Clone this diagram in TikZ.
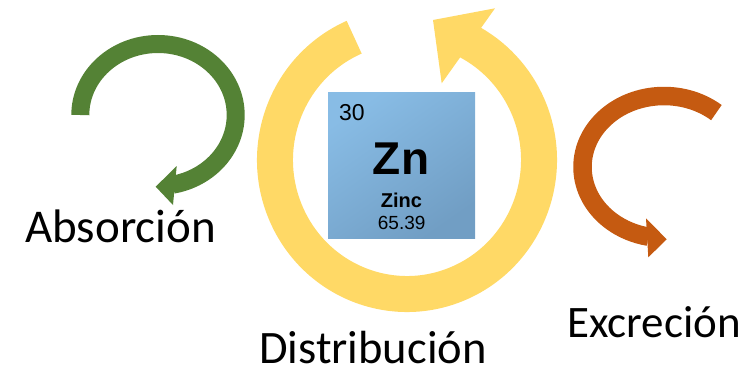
\documentclass[tikz,border=0pt]{standalone}
\usepackage{fontspec}
\setmainfont{Carlito}
\newfontfamily\tilefont{Liberation Sans}
\usetikzlibrary{calc}
\definecolor{absgreen}{RGB}{84,130,53}
\definecolor{disyellow}{RGB}{255,217,102}
\definecolor{excorange}{RGB}{197,90,17}
\definecolor{tilelight}{RGB}{136,188,229}
\definecolor{tiledark}{RGB}{113,158,196}
\tikzset{
  stage/.style={inner sep=0pt, anchor=base west, text depth=0pt},
  tile/.style={minimum width=147, minimum height=146, inner sep=0pt,
               left color=tilelight, right color=tiledark, shading angle=35},
  tiletext/.style={inner sep=0pt, anchor=base, text=black}
}

\begin{document}
\begin{tikzpicture}[x=1pt,y=1pt]
  \useasboundingbox (0,0) rectangle (756,-370);
  % centres of the cycles
  \coordinate (gc) at (158,-115);
  \coordinate (yc) at (407,-160);
  \coordinate (oc) at (664,-167);

  % absorcion
  \draw[absgreen, line width=18]
    ($(gc)+(180:77.7 and 71)$) arc[start angle=180, end angle=-79, x radius=77.7, y radius=71];
  \fill[absgreen] (155.7,-186.7) -- (176.7,-166) -- (173,-205) -- cycle;

  % distribucion
  \draw[disyellow, line width=36]
    ($(yc)+(113.6:132 and 134)$) arc[start angle=113.6, end angle=423, x radius=132, y radius=134];
  \fill[disyellow] (433,-20) -- (495,-8.3) -- (441.7,-83.3) -- cycle;

  % excrecion
  \draw[excorange, line width=18.5]
    ($(oc)+(50:81.5 and 71)$) arc[start angle=50, end angle=259, x radius=81.5, y radius=71];
  \fill[excorange] (666.7,-239.3) -- (646,-218.3) -- (648.3,-257.3) -- cycle;

  % zinc tile
  \node[tile] (zn) at (401.5,-165) {};
  \node[tiletext, anchor=base west, font=\tilefont\fontsize{23}{26}\selectfont] (number) at (339,-120.7) {30};
  \node[tiletext, font=\tilefont\bfseries\fontsize{46}{50}\selectfont] (symbol) at (401,-174) {Zn};
  \node[tiletext, font=\tilefont\bfseries\fontsize{20}{22}\selectfont] (name) at (401.5,-207.7) {Zinc};
  \node[tiletext, font=\tilefont\fontsize{19}{22}\selectfont] (mass) at (401.7,-229) {65.39};

  % labels
  \node[stage, font=\fontsize{47}{52}\selectfont] (absorcion) at (25,-242.8) {Absorción};
  \node[stage, font=\fontsize{46.5}{52}\selectfont] (distribucion) at (259,-363) {Distribución};
  \node[stage, font=\fontsize{45}{50}\selectfont] (excrecion) at (567,-337) {Excreción};
\end{tikzpicture}
\end{document}
